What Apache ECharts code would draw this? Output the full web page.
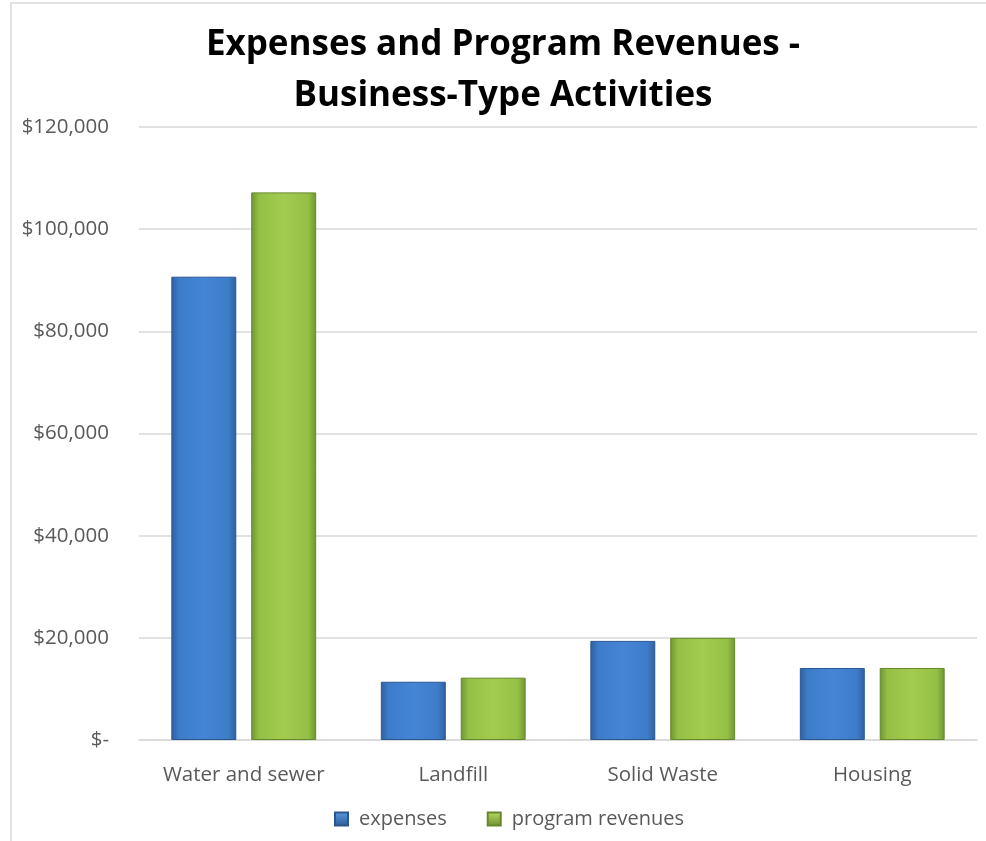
<!DOCTYPE html>
<html><head><meta charset="utf-8">
<script src="https://cdn.jsdelivr.net/npm/echarts@6/dist/echarts.min.js"></script>
<style>html,body{margin:0;padding:0;background:#fff}#c{width:986px;height:841px}</style>
</head><body><div id="c"></div>
<script>
const categories = ["Water and sewer", "Landfill", "Solid Waste", "Housing"];
const expenses = [90700, 11400, 19400, 14100];
const programRevenues = [107200, 12200, 20000, 14100];
const yTicks = [0, 20000, 40000, 60000, 80000, 100000, 120000];

const chart = echarts.init(document.getElementById('c'), null, {renderer: 'canvas'});
function grad(dark, mid, light) {
  return new echarts.graphic.LinearGradient(0, 0, 1, 0, [
    {offset: 0, color: dark}, {offset: 0.12, color: mid}, {offset: 0.5, color: light}, {offset: 0.88, color: mid}, {offset: 1, color: dark}
  ]);
}
const blue = grad('#2f5f9e', '#3d7cc9', '#4585d6');
const green = grad('#6f9434', '#94c045', '#a2cc50');
const blueIcon = new echarts.graphic.LinearGradient(0, 0, 0, 1, [{offset: 0, color: '#5a9ae6'}, {offset: 1, color: '#2d5a94'}]);
const greenIcon = new echarts.graphic.LinearGradient(0, 0, 0, 1, [{offset: 0, color: '#b8dc62'}, {offset: 1, color: '#6e8f30'}]);
chart.setOption({
  animation: false,
  backgroundColor: '#fff',
  title: {
    text: 'Expenses and Program Revenues -\nBusiness-Type Activities',
    left: 498, textAlign: 'center', top: 15,
    textStyle: {fontFamily: 'Open Sans', fontWeight: 'bold', fontSize: 35, lineHeight: 51, color: '#000'}
  },
  graphic: [{type: 'polyline', shape: {points: [[11, 845], [11, 3], [990, 3]]}, style: {stroke: '#d9d9d9', lineWidth: 1.5, fill: null}}],
  legend: {
    bottom: 12, left: 334, padding: 0, itemWidth: 13, itemHeight: 13, itemGap: 40,
    textStyle: {fontFamily: 'Open Sans', fontSize: 20, color: '#595959', padding: [0, 0, 0, 6]},
    data: [{name: 'expenses', icon: 'rect', itemStyle: {color: blueIcon}}, {name: 'program revenues', icon: 'rect', itemStyle: {color: greenIcon}}]
  },
  grid: {left: 139, right: 9, top: 127, bottom: 101, containLabel: false},
  xAxis: {
    type: 'category', data: categories,
    axisLine: {lineStyle: {color: '#d9d9d9', width: 1.5}},
    axisTick: {show: false},
    axisLabel: {interval: 0, fontFamily: 'Open Sans', fontSize: 20.5, color: '#595959', margin: 25}
  },
  yAxis: {
    type: 'value', min: 0, max: 120000, interval: 20000,
    axisLine: {show: false}, axisTick: {show: false},
    splitLine: {lineStyle: {color: '#d9d9d9', width: 1.5}},
    axisLabel: {fontFamily: 'Open Sans', fontSize: 20.5, color: '#595959', margin: 30,
      formatter: v => v === 0 ? '$-' : '$' + v.toLocaleString('en-US')}
  },
  series: [
    {name: 'expenses', type: 'bar', data: expenses, barWidth: '31%', barGap: '23%',
     itemStyle: {color: blue, borderColor: '#2b5790', borderWidth: 1}},
    {name: 'program revenues', type: 'bar', data: programRevenues, barWidth: '31%',
     itemStyle: {color: green, borderColor: '#66882c', borderWidth: 1}}
  ]
});
</script></body></html>
